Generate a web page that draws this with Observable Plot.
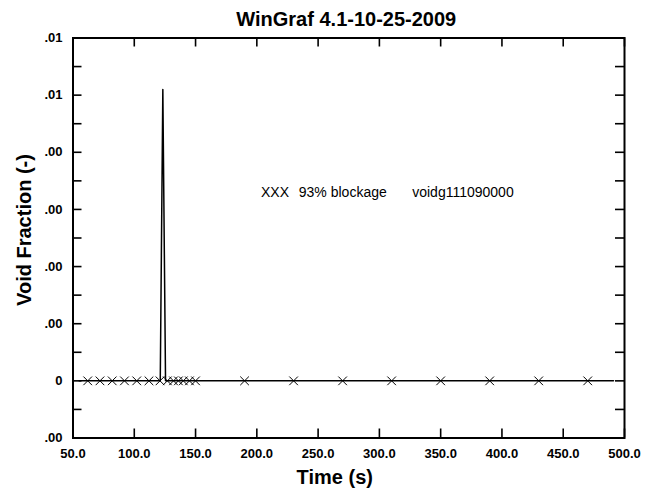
<!DOCTYPE html>
<html><head><meta charset="utf-8">
<script src="https://cdn.jsdelivr.net/npm/d3@7"></script>
<script src="https://cdn.jsdelivr.net/npm/@observablehq/plot@0.6"></script>
<style>body{margin:0;background:#fff} svg{display:block}</style>
</head><body><div id="chart"></div>
<script>
const title = "WinGraf 4.1-10-25-2009";
const xLabel = "Time (s)";
const yLabel = "Void Fraction (-)";
const legendItems = ["XXX", "93% blockage", "voidg111090000"];

// line series (time, void fraction)
const lineTime  = [55, 121.2, 123.3, 125.5, 491];
const lineValue = [0, 0, 0.0102, 0, 0];

// marker (X) positions
const markerTime  = [62, 72, 82, 92, 102, 112, 121, 127, 132, 136, 140, 145, 150, 190, 230, 270, 310, 350, 390, 430, 470];
const markerValue = [0, 0, 0, 0, 0, 0, 0, 0, 0, 0, 0, 0, 0, 0, 0, 0, 0, 0, 0, 0, 0];

// ticks
const xTicks = [50, 100, 150, 200, 250, 300, 350, 400, 450, 500];
const xTickLabels = ["50.0", "100.0", "150.0", "200.0", "250.0", "300.0", "350.0", "400.0", "450.0", "500.0"];
const yTicks = [-0.002, 0, 0.002, 0.004, 0.006, 0.008, 0.010, 0.012];
const yTickLabels = [".00", "0", ".00", ".00", ".00", ".00", ".01", ".01"];
const yMinorTicks = [-0.002, -0.001, 0, 0.001, 0.002, 0.003, 0.004, 0.005, 0.006, 0.007, 0.008, 0.009, 0.010, 0.011, 0.012];

const lineData = lineTime.map((t, i) => ({t, v: lineValue[i]}));
const markerData = markerTime.map((t, i) => ({t, v: markerValue[i]}));

const W = 661, H = 492;
const mL = 72.5, mR = 37, mT = 37.5, mB = 54.5;
const innerW = W - mL - mR, innerH = H - mT - mB;
const tickLen = 9;
const font = "'Liberation Sans', Arial, Helvetica, sans-serif";

const chart = Plot.plot({
  width: W, height: H,
  marginLeft: mL, marginRight: mR, marginTop: mT, marginBottom: mB,
  style: {fontFamily: font, background: "#fff", color: "#000"},
  x: {domain: [50, 500], label: null},
  y: {domain: [-0.002, 0.012], label: null},
  marks: [
    // inward ticks
    Plot.tickY(yMinorTicks, {y: d => d, insetRight: innerW - tickLen, stroke: "#000", strokeWidth: 1.6}),
    Plot.tickY(yMinorTicks, {y: d => d, insetLeft: innerW - tickLen, stroke: "#000", strokeWidth: 1.6}),
    Plot.tickX(xTicks, {x: d => d, insetTop: innerH - tickLen, stroke: "#000", strokeWidth: 1.6}),
    Plot.tickX(xTicks, {x: d => d, insetBottom: innerH - tickLen, stroke: "#000", strokeWidth: 1.6}),
    // tick labels
    Plot.axisY({anchor: "left", ticks: yTicks, tickSize: 0, tickPadding: 10.5,
      tickFormat: d => yTickLabels[yTicks.indexOf(d)], fontSize: 13, fontWeight: "bold", label: null}),
    Plot.axisX({anchor: "bottom", ticks: xTicks, tickSize: 0, tickPadding: 11,
      tickFormat: d => xTickLabels[xTicks.indexOf(d)], fontSize: 13, fontWeight: "bold", label: null}),
    // data
    Plot.line(lineData, {x: "t", y: "v", stroke: "#000", strokeWidth: 1.5}),
    Plot.dot(markerData, {x: "t", y: "v", symbol: "times", r: 4, stroke: "#000", strokeWidth: 1}),
    // legend text
    Plot.text([legendItems[0]], {frameAnchor: "top-left", dx: 188, dy: 155, textAnchor: "start", lineAnchor: "middle", fontSize: 14}),
    Plot.text([legendItems[1]], {frameAnchor: "top-left", dx: 225.8, dy: 155, textAnchor: "start", lineAnchor: "middle", fontSize: 14}),
    Plot.text([legendItems[2]], {frameAnchor: "top-left", dx: 339.2, dy: 155, textAnchor: "start", lineAnchor: "middle", fontSize: 14}),
    // titles
    Plot.text([title], {frameAnchor: "top", dx: -2.5, dy: -18, textAnchor: "middle", lineAnchor: "middle", fontSize: 20, fontWeight: "bold"}),
    Plot.text([xLabel], {frameAnchor: "bottom", dx: -14, dy: 40, textAnchor: "middle", lineAnchor: "middle", fontSize: 20, fontWeight: "bold"}),
    Plot.text([yLabel], {frameAnchor: "left", dx: -48.5, dy: -8, rotate: -90, textAnchor: "middle", lineAnchor: "middle", fontSize: 20, fontWeight: "bold"}),
    Plot.frame({stroke: "#000", strokeWidth: 2})
  ]
});
document.getElementById("chart").appendChild(chart);
</script>
</body></html>
